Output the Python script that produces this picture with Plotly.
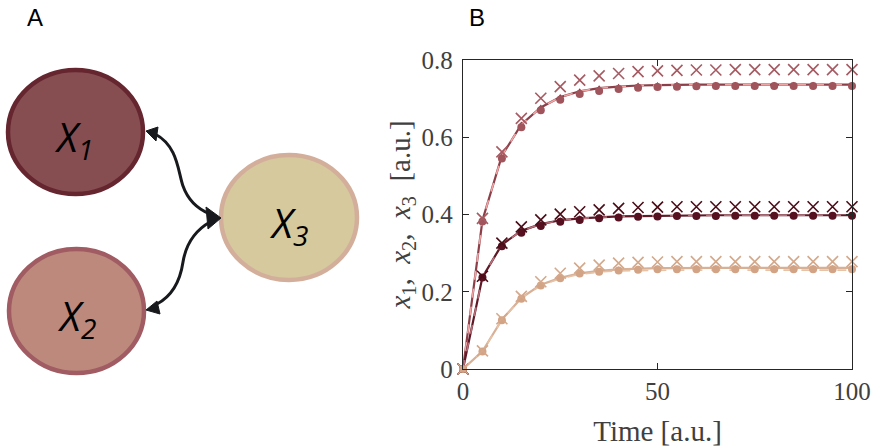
import plotly.graph_objects as go

# ---------------- data ----------------
t = [0, 5, 10, 15, 20, 25, 30, 35, 40, 45, 50, 55, 60, 65, 70, 75, 80, 85, 90, 95, 100]

x1_model = [0, 0.385, 0.552, 0.633, 0.677, 0.704, 0.719, 0.727, 0.731, 0.734, 0.735, 0.736, 0.736, 0.736, 0.736, 0.736, 0.736, 0.736, 0.736, 0.736, 0.736]
x1_dots = [0, 0.382, 0.545, 0.626, 0.670, 0.697, 0.712, 0.720, 0.725, 0.728, 0.730, 0.731, 0.732, 0.733, 0.733, 0.733, 0.733, 0.733, 0.733, 0.733, 0.733]
x1_cross = [0, 0.390, 0.562, 0.649, 0.701, 0.731, 0.748, 0.759, 0.765, 0.770, 0.772, 0.773, 0.774, 0.774, 0.775, 0.775, 0.775, 0.775, 0.775, 0.775, 0.775]

x2_model = [0, 0.238, 0.322, 0.358, 0.375, 0.385, 0.390, 0.393, 0.395, 0.396, 0.397, 0.397, 0.398, 0.398, 0.398, 0.398, 0.398, 0.398, 0.398, 0.398, 0.398]
x2_dots = [0, 0.237, 0.318, 0.353, 0.370, 0.381, 0.386, 0.390, 0.392, 0.394, 0.395, 0.396, 0.396, 0.396, 0.397, 0.397, 0.397, 0.397, 0.397, 0.397, 0.397]
x2_cross = [0, 0.240, 0.326, 0.368, 0.386, 0.401, 0.407, 0.412, 0.416, 0.418, 0.419, 0.420, 0.420, 0.420, 0.420, 0.420, 0.420, 0.420, 0.420, 0.420, 0.420]

x3_model = [0, 0.046, 0.128, 0.184, 0.218, 0.236, 0.248, 0.254, 0.258, 0.260, 0.261, 0.261, 0.262, 0.262, 0.262, 0.262, 0.262, 0.262, 0.262, 0.262, 0.262]
x3_dash = [0, 0.045, 0.127, 0.183, 0.216, 0.234, 0.245, 0.251, 0.254, 0.255, 0.256, 0.256, 0.256, 0.256, 0.256, 0.256, 0.256, 0.256, 0.256, 0.256, 0.256]
x3_dots = [0, 0.045, 0.126, 0.182, 0.216, 0.235, 0.247, 0.252, 0.255, 0.257, 0.258, 0.258, 0.258, 0.258, 0.258, 0.258, 0.258, 0.258, 0.258, 0.258, 0.258]
x3_cross = [0, 0.047, 0.130, 0.188, 0.226, 0.248, 0.261, 0.269, 0.274, 0.276, 0.277, 0.278, 0.278, 0.278, 0.278, 0.278, 0.278, 0.278, 0.278, 0.278, 0.278]

x_ticks = [0, 50, 100]
y_ticks = [0, 0.2, 0.4, 0.6, 0.8]
y_ticktext = ["0", "0.2", "0.4", "0.6", "0.8"]

series = [
    # model, dashed, dots, cross, line color, dash color, marker color, cross color
    (x1_model, x1_model, x1_dots, x1_cross, "#8c3f48", "#f2a5a5", "#a0545b", "#a65a62"),
    (x2_model, x2_model, x2_dots, x2_cross, "#5e1826", "#b8707a", "#561020", "#4a0d18"),
    (x3_model, x3_dash, x3_dots, x3_cross, "#d8b096", "#e6c2a6", "#d3a385", "#d4a88a"),
]

fig = go.Figure()

for model, dash, dots, cross, lc, dc, mc, cc in series:
    fig.add_trace(go.Scatter(x=t, y=model, mode="lines+markers",
                             line=dict(color=lc, width=2.2),
                             marker=dict(symbol="triangle-up", size=6, color=lc),
                             cliponaxis=False, showlegend=False, hoverinfo="skip"))
    fig.add_trace(go.Scatter(x=t, y=dash, mode="lines",
                             line=dict(color=dc, width=1.6, dash="dash"),
                             showlegend=False, hoverinfo="skip"))
    fig.add_trace(go.Scatter(x=t, y=dots, mode="markers",
                             marker=dict(symbol="circle", size=8, color=mc),
                             cliponaxis=False, showlegend=False, hoverinfo="skip"))
    fig.add_trace(go.Scatter(x=t, y=cross, mode="markers",
                             marker=dict(symbol="x-thin-open", size=11, color=cc,
                                         line=dict(color=cc, width=1.6)),
                             cliponaxis=False, showlegend=False, hoverinfo="skip"))

# dummy trace for the diagram axes
fig.add_trace(go.Scatter(x=[0], y=[0], xaxis="x2", yaxis="y2", mode="markers",
                         marker=dict(opacity=0), showlegend=False, hoverinfo="skip"))

serif = "Liberation Serif, DejaVu Serif, serif"
axcol = "#262626"
fig.update_layout(
    width=872, height=447,
    margin=dict(l=0, r=0, t=0, b=0, autoexpand=False),
    paper_bgcolor="white", plot_bgcolor="white",
    xaxis=dict(domain=[463/872, 852/872], range=[0, 100], tickvals=x_ticks,
               ticks="inside", ticklen=6, tickwidth=1.2, tickcolor=axcol,
               showline=True, linecolor=axcol, linewidth=1.3, mirror="ticks",
               showgrid=False, zeroline=False, automargin=False,
               tickfont=dict(family=serif, size=25, color="#404040"),
               title=dict(text="Time [a.u.]", font=dict(family=serif, size=29, color="#404040"),
                          standoff=18)),
    yaxis=dict(domain=[78/447, 387/447], range=[0, 0.8], tickvals=y_ticks, ticktext=y_ticktext,
               ticks="inside", ticklen=6, tickwidth=1.2, tickcolor=axcol,
               showline=True, linecolor=axcol, linewidth=1.3, mirror="ticks",
               showgrid=False, zeroline=False, automargin=False, ticklabelstandoff=4,
               tickfont=dict(family=serif, size=25, color="#404040"),
               title=dict(text="<i>x</i><sub>1</sub>,  <i>x</i><sub>2</sub>,  <i>x</i><sub>3</sub>  [a.u.]",
                          font=dict(family=serif, size=29, color="#404040"), standoff=2)),
    xaxis2=dict(domain=[0, 380/872], range=[0, 380], visible=False, anchor="y2", automargin=False),
    yaxis2=dict(domain=[0, 1], range=[447, 0], visible=False, anchor="x2", automargin=False),
)

shapes = []
# nodes
nodes = [
    (6, 68, 145, 196, "#874e52", "#66262f"),
    (7, 247, 146, 375, "#bd897d", "#a05c62"),
    (219, 153, 359, 282, "#d6c99e", "#d3af9b"),
]
for x0, y0, x1, y1, fill, border in nodes:
    shapes.append(dict(type="circle", xref="x2", yref="y2", x0=x0 + 2, y0=y0 + 2,
                       x1=x1 - 2, y1=y1 - 2, fillcolor=fill,
                       line=dict(color=border, width=4.5), layer="above"))
arrow_col = "#17191c"
# curved connectors
shapes.append(dict(type="path", xref="x2", yref="y2",
                   path="M 155,134 C 178,146 178,172 183,186 C 189,203 200,210 210,214",
                   line=dict(color=arrow_col, width=3), layer="above"))
shapes.append(dict(type="path", xref="x2", yref="y2",
                   path="M 210,222 C 196,230 186,244 183,262 C 180,282 172,296 157,304",
                   line=dict(color=arrow_col, width=3), layer="above"))
# arrow heads
for p in ["M 146,131 L 158,127 L 156,141 Z",
          "M 221,218 L 206,207 L 208,229 Z",
          "M 146,310 L 157,301 L 160,314 Z"]:
    shapes.append(dict(type="path", xref="x2", yref="y2", path=p,
                       fillcolor=arrow_col, line=dict(color=arrow_col, width=1), layer="above"))
fig.update_layout(shapes=shapes)

label_font = "Open Sans, Noto Sans, DejaVu Sans, sans-serif"
ann = []
for txt, cx, cy in [("<i>X</i><sub><i>1</i></sub>", 73, 138),
                    ("<i>X</i><sub><i>2</i></sub>", 76, 317),
                    ("<i>X</i><sub><i>3</i></sub>", 288, 224)]:
    ann.append(dict(x=cx, y=cy, xref="x2", yref="y2", text=txt, showarrow=False,
                    font=dict(family=label_font, size=40, color="black"),
                    xanchor="center", yanchor="middle"))
ann.append(dict(x=35/872, y=1 - 18/447, xref="paper", yref="paper", text="A", showarrow=False,
                font=dict(family="Liberation Sans, Arial, sans-serif", size=24, color="black"),
                xanchor="center", yanchor="middle"))
ann.append(dict(x=477/872, y=1 - 18/447, xref="paper", yref="paper", text="B", showarrow=False,
                font=dict(family="Liberation Sans, Arial, sans-serif", size=24, color="black"),
                xanchor="center", yanchor="middle"))
fig.update_layout(annotations=ann)

fig.write_html("out.html")
